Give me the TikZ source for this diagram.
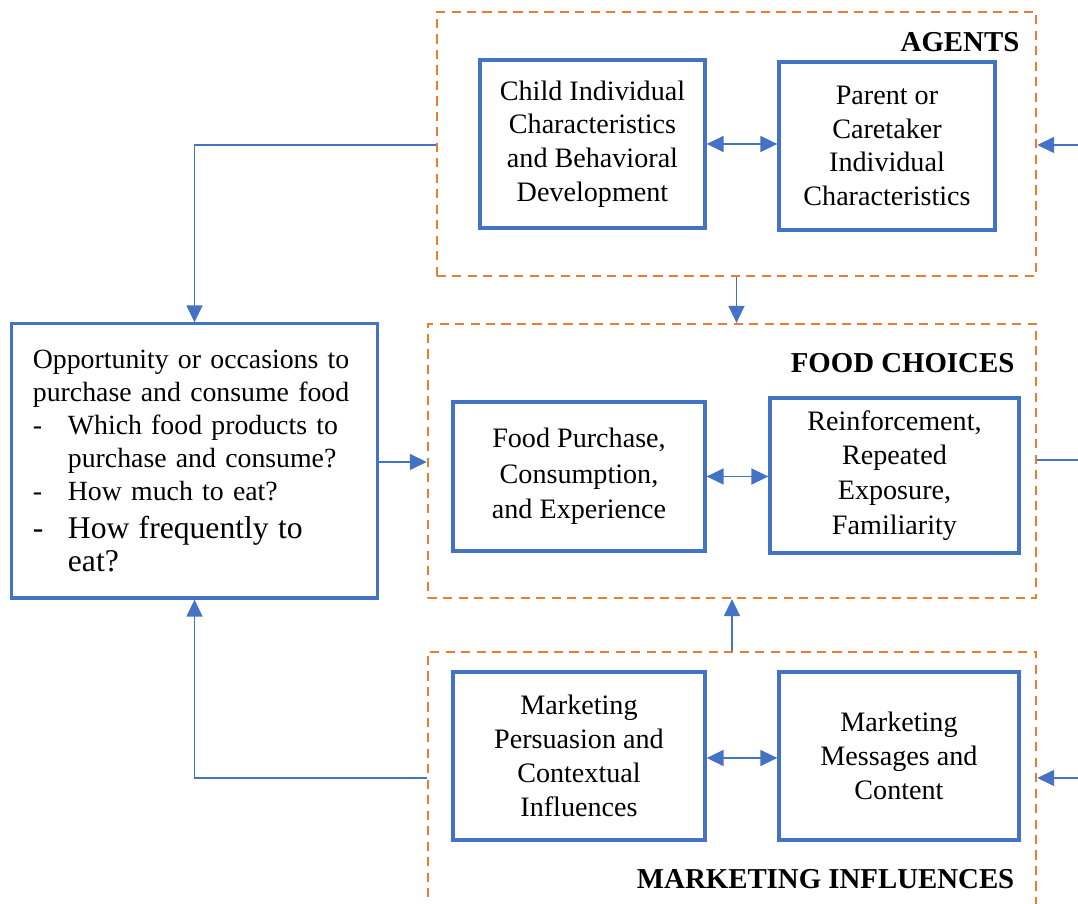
\documentclass[tikz,border=0pt]{standalone}
\usepackage{fontspec}
\setmainfont{Liberation Serif}
\usepackage{tikz}
\usetikzlibrary{arrows.meta, positioning, calc}
\definecolor{boxblue}{RGB}{68, 114, 196}
\definecolor{grouporange}{RGB}{237, 125, 49}

\begin{document}
\begin{tikzpicture}[
    x=0.01cm, y=-0.01cm,
    factor/.style={draw=boxblue, line width=0.9pt, align=center, inner sep=2pt, font=\fontsize{8}{9.6}\selectfont},
    group/.style={draw=grouporange, line width=0.6pt, dash pattern=on 2.6pt off 1.8pt, inner sep=0pt},
    heading/.style={anchor=east, inner sep=0pt, font=\fontsize{8.2}{9.6}\selectfont\bfseries},
    flow/.style={draw=boxblue, line width=0.45pt, -{Triangle[length=1.7mm, width=1.6mm]}},
    both/.style={draw=boxblue, line width=0.45pt, {Triangle[length=1.7mm, width=1.6mm]}-{Triangle[length=1.7mm, width=1.6mm]}},
    link/.style={draw=boxblue, line width=0.45pt}
]
    \clip (0,0) rectangle (1078,904);

    % Groups
    \node[group, minimum width=5.99cm, minimum height=2.64cm] (agents) at (736.5, 144) {};
    \node[group, minimum width=6.08cm, minimum height=2.74cm] (choices) at (732, 461) {};
    \node[group, minimum width=6.08cm, minimum height=2.80cm] (marketing) at (732, 792) {};
    \node[heading] (agentstitle) at (1020, 42) {AGENTS};
    \node[heading] (choicestitle) at (1015, 363) {FOOD CHOICES};
    \node[heading] (marketingtitle) at (1015, 879) {MARKETING INFLUENCES};

    % Agents
    \node[factor, minimum width=2.25cm, minimum height=1.68cm] (child) at (592.5, 144)
        {Child Individual\\Characteristics\\and Behavioral\\Development};
    \node[factor, minimum width=2.16cm, minimum height=1.68cm] (parent) at (887, 146)
        {Parent or\\Caretaker\\Individual\\Characteristics};

    % Food choices
    \node[factor, minimum width=2.52cm, minimum height=1.49cm, font=\fontsize{8}{10.1}\selectfont] (purchase) at (579, 476.5)
        {Food Purchase,\\Consumption,\\and Experience};
    \node[factor, minimum width=2.49cm, minimum height=1.55cm, font=\fontsize{8}{9.9}\selectfont] (reinforce) at (894.5, 475.5)
        {Reinforcement,\\Repeated\\Exposure,\\Familiarity};

    % Marketing influences
    \node[factor, minimum width=2.52cm, minimum height=1.68cm] (persuasion) at (579, 756)
        {Marketing\\Persuasion and\\Contextual\\Influences};
    \node[factor, minimum width=2.40cm, minimum height=1.68cm] (messages) at (899, 756)
        {Marketing\\Messages and\\Content};

    % Opportunity
    \node[factor, align=left, text width=3.23cm, inner xsep=0.21cm, minimum height=2.74cm,
        font=\fontsize{7.9}{9.4}\selectfont] (opportunity) at (194.5, 461)
        {Opportunity or occasions to\\
         purchase and consume food\\
         \makebox[0.35cm][l]{-}Which food products to\\
         \hspace*{0.35cm}purchase and consume?\\
         \makebox[0.35cm][l]{-}How much to eat?\\[0.5pt]
         {\fontsize{9}{10.2}\selectfont\makebox[0.35cm][l]{-}How frequently to\\
         \hspace*{0.35cm}eat?}};

    % Off-page ends
    \coordinate (agentsin) at (1078, 145);
    \coordinate (choicesout) at (1078, 460);
    \coordinate (marketingin) at (1078, 778);

    % Connections
    \draw[both] (child.east) -- (parent.west |- child.east);
    \draw[both] (purchase.east) -- (reinforce.west |- purchase.east);
    \draw[both] ($(persuasion.east)+(0,2)$) -- ($(messages.west)+(0,2)$);

    \draw[flow] (agentsin) -- (agents.east |- agentsin);
    \draw[flow] (agents.west |- agentsin) -| (opportunity.north);
    \draw[flow] (agents.south) -- (agents.south |- choices.north);
    \draw[flow] (opportunity.east |- 0,462) -- (choices.west |- 0,462);
    \draw[link] (choices.east |- choicesout) -- (choicesout);
    \draw[flow] (marketing.north) -- (marketing.north |- choices.south);
    \draw[flow] (marketingin) -- (marketing.east |- marketingin);
    \draw[flow] (marketing.west |- marketingin) -| (opportunity.south);

\end{tikzpicture}
\end{document}
